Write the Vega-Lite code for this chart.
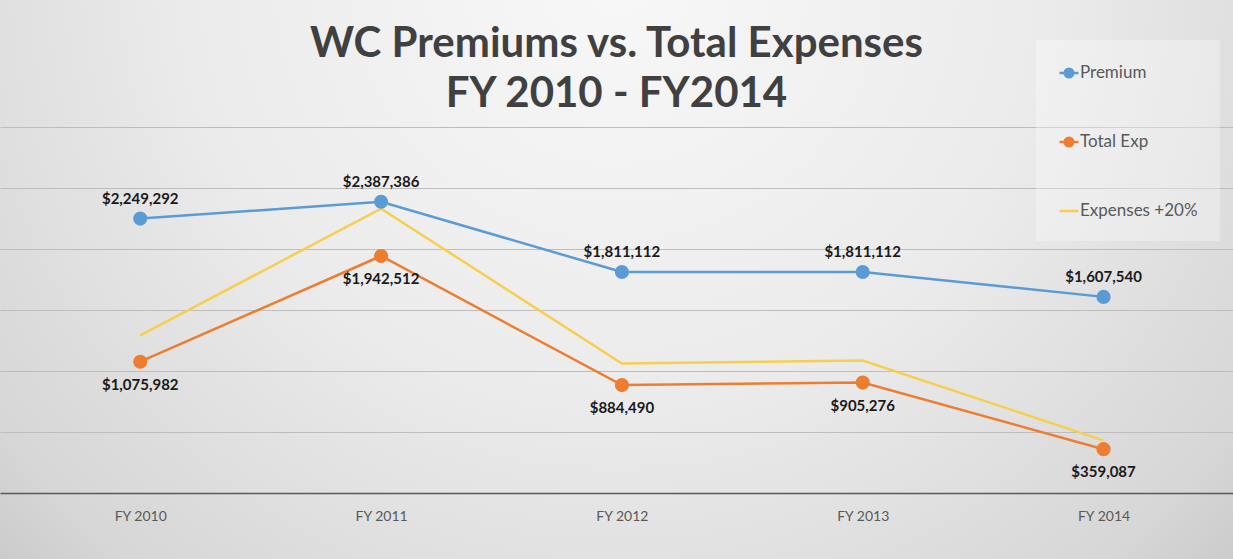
{
  "$schema": "https://vega.github.io/schema/vega-lite/v6.json",
  "width": 1233,
  "height": 559,
  "autosize": {"type": "none"},
  "padding": 0,
  "background": "#d6d6d6",
  "config": {
    "view": {
      "stroke": null,
      "fill": {
        "gradient": "radial",
        "x1": 0.5, "y1": 0.25, "r1": 0,
        "x2": 0.5, "y2": 0.25, "r2": 0.78,
        "stops": [
          {"offset": 0, "color": "#f8f8f8"},
          {"offset": 0.45, "color": "#ebebeb"},
          {"offset": 0.8, "color": "#d6d6d6"},
          {"offset": 1, "color": "#bdbdbd"}
        ]
      }
    },
    "font": "Lato"
  },
  "title": {
    "text": ["WC Premiums vs. Total Expenses", "FY 2010 - FY2014"],
    "font": "Lato",
    "fontSize": 42,
    "fontWeight": "bold",
    "color": "#404040",
    "anchor": "middle",
    "lineHeight": 50,
    "offset": -116
  },
  "data": {
    "values": [
      {"year": "FY 2010", "series": "Premium", "value": 2249292},
      {"year": "FY 2011", "series": "Premium", "value": 2387386},
      {"year": "FY 2012", "series": "Premium", "value": 1811112},
      {"year": "FY 2013", "series": "Premium", "value": 1811112},
      {"year": "FY 2014", "series": "Premium", "value": 1607540},
      {"year": "FY 2010", "series": "Total Exp", "value": 1075982},
      {"year": "FY 2011", "series": "Total Exp", "value": 1942512},
      {"year": "FY 2012", "series": "Total Exp", "value": 884490},
      {"year": "FY 2013", "series": "Total Exp", "value": 905276},
      {"year": "FY 2014", "series": "Total Exp", "value": 359087},
      {"year": "FY 2010", "series": "Expenses +20%", "value": 1291178},
      {"year": "FY 2011", "series": "Expenses +20%", "value": 2331014},
      {"year": "FY 2012", "series": "Expenses +20%", "value": 1061388},
      {"year": "FY 2013", "series": "Expenses +20%", "value": 1086331},
      {"year": "FY 2014", "series": "Expenses +20%", "value": 430904}
    ]
  },
  "layer": [
    {
      "mark": {"type": "line", "strokeWidth": 2.5},
      "encoding": {
        "x": {
          "field": "year",
          "type": "ordinal",
          "sort": null,
          "scale": {"type": "point", "padding": 0.56, "align": 0.52},
          "axis": {
            "title": null,
            "orient": "bottom",
            "offset": -66,
            "labelAngle": 0,
            "ticks": false,
            "grid": false,
            "domainColor": "#595959",
            "domainWidth": 1.5,
            "labelPadding": 16,
            "labelFont": "Lato",
            "labelFontSize": 14,
            "labelColor": "#595959"
          }
        },
        "y": {
          "field": "value",
          "type": "quantitative",
          "scale": {"domain": [-541000, 4041000], "nice": false, "zero": false},
          "axis": {
            "title": null,
            "labels": false,
            "ticks": false,
            "domain": false,
            "values": [500000, 1000000, 1500000, 2000000, 2500000, 3000000],
            "gridColor": "#bdbdbd",
            "gridWidth": 1
          }
        },
        "color": {
          "field": "series",
          "type": "nominal",
          "scale": {
            "domain": ["Premium", "Total Exp", "Expenses +20%"],
            "range": ["#5b9bd5", "#ed7d31", "#f7cf4f"]
          },
          "legend": {
            "title": null,
            "orient": "none",
            "legendX": 1036,
            "legendY": 40,
            "padding": 22,
            "fillColor": "rgba(255,255,255,0.3)",
            "symbolType": "stroke",
            "symbolSize": 360,
            "symbolStrokeWidth": 2.5,
            "labelFont": "Lato",
            "labelFontSize": 17,
            "labelColor": "#595959",
            "labelOffset": 0,
            "rowPadding": 48,
            "labelLimit": 200,
            "encode": {
              "symbols": {
                "update": {
                  "shape": {"signal": "datum.value === 'Expenses +20%' ? 'stroke' : 'M-1,0L1,0M-0.45,0A0.45,0.45,0,1,0,0.45,0A0.45,0.45,0,1,0,-0.45,0Z'"},
                  "fill": {"signal": "datum.value === 'Premium' ? '#5b9bd5' : datum.value === 'Total Exp' ? '#ed7d31' : 'transparent'"}
                }
              }
            }
          }
        },
        "strokeWidth": {"condition": {"test": "datum.series === 'Expenses +20%'", "value": 2}, "value": 2.5}
      }
    },
    {
      "transform": [{"filter": "datum.series !== 'Expenses +20%'"}],
      "mark": {"type": "point", "filled": true, "opacity": 1, "size": 200},
      "encoding": {
        "x": {"field": "year", "type": "ordinal", "sort": null},
        "y": {"field": "value", "type": "quantitative"},
        "color": {"field": "series", "type": "nominal"}
      }
    },
    {
      "transform": [{"filter": "datum.series === 'Premium'"}],
      "mark": {"type": "text", "dy": -20, "font": "Lato", "fontSize": 15, "fontWeight": "bold", "color": "#1a1a1a"},
      "encoding": {
        "x": {"field": "year", "type": "ordinal", "sort": null},
        "y": {"field": "value", "type": "quantitative"},
        "text": {"field": "value", "type": "quantitative", "format": "$,.0f"}
      }
    },
    {
      "transform": [{"filter": "datum.series === 'Total Exp'"}],
      "mark": {"type": "text", "dy": 23, "font": "Lato", "fontSize": 15, "fontWeight": "bold", "color": "#1a1a1a"},
      "encoding": {
        "x": {"field": "year", "type": "ordinal", "sort": null},
        "y": {"field": "value", "type": "quantitative"},
        "text": {"field": "value", "type": "quantitative", "format": "$,.0f"}
      }
    }
  ]
}
